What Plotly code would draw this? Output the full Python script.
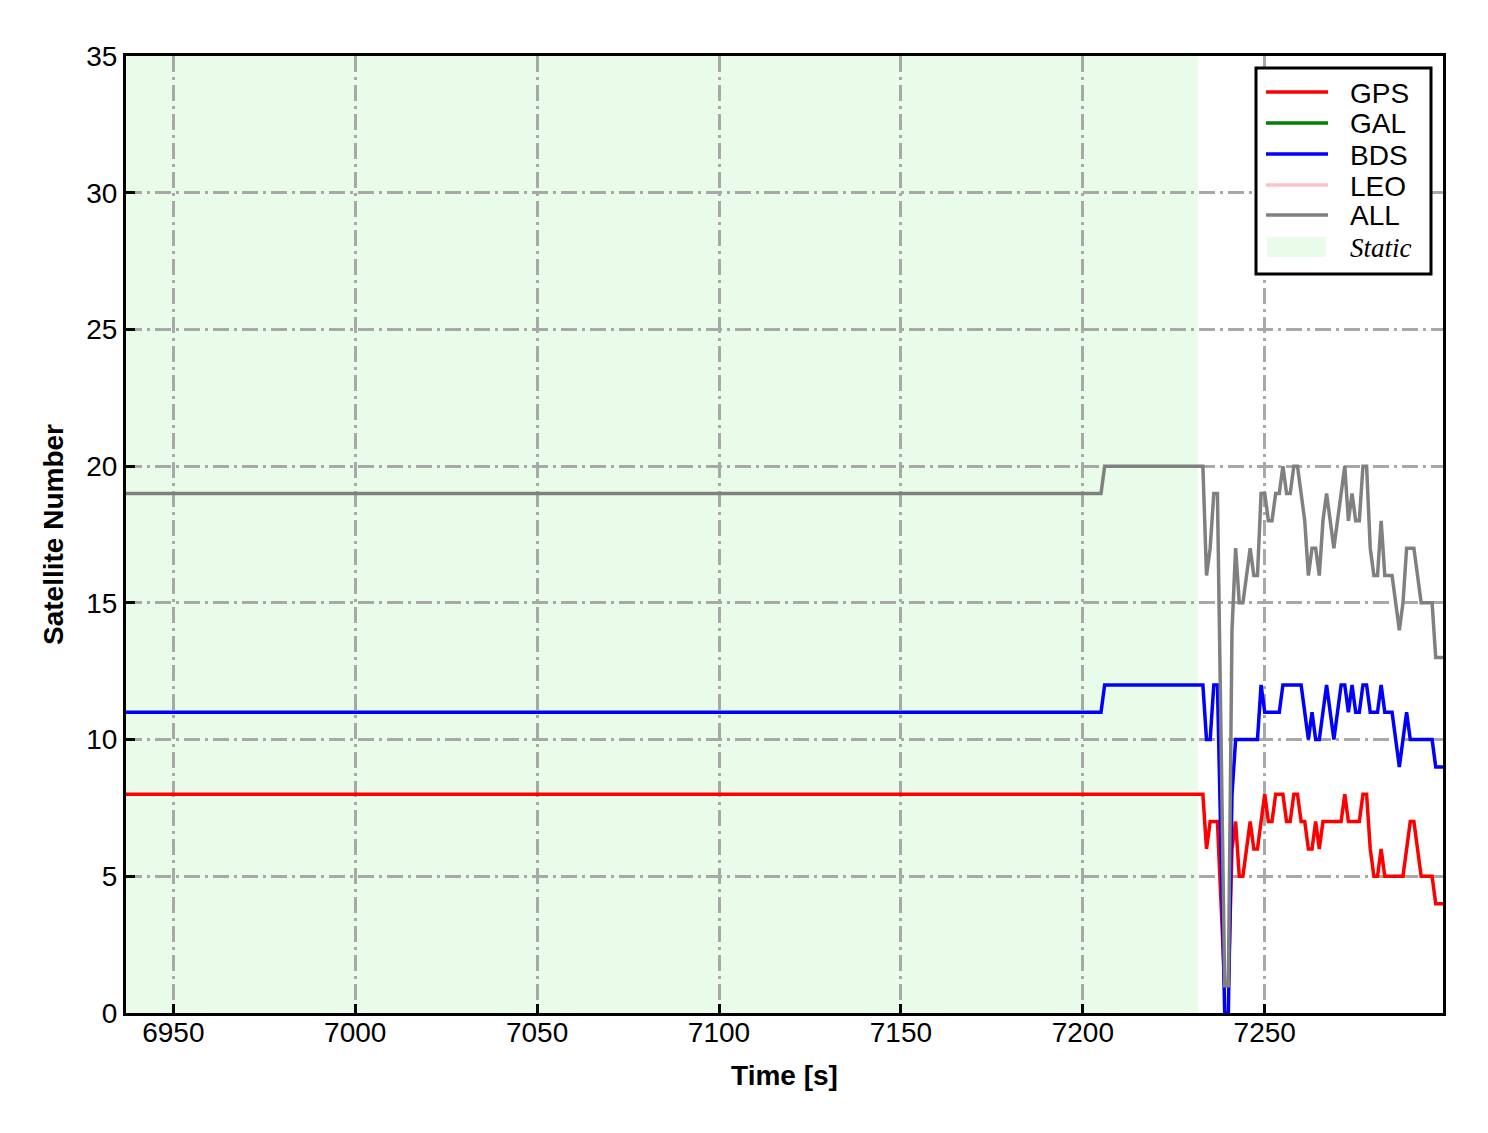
import plotly.graph_objects as go

# time axis [s]: flat part is given by its end points, then 1 s samples
time_s = [6937, 7205, 7206] + list(range(7233, 7300))

gps = [8, 8, 8,
       8, 6, 7, 7, 7, 4, 1, 1, 6, 7,
       5, 5, 6, 7, 6, 6, 7, 8, 7, 7,
       8, 8, 8, 7, 7, 8, 8, 7, 7, 6,
       6, 7, 6, 7, 7, 7, 7, 7, 7, 8,
       7, 7, 7, 7, 8, 8, 6, 5, 5, 6,
       5, 5, 5, 5, 5, 5, 6, 7, 7, 6,
       5, 5, 5, 5, 4, 4, 4]

bds = [11, 11, 12,
       12, 10, 10, 12, 12, 6, 0, 0, 8, 10,
       10, 10, 10, 10, 10, 10, 12, 11, 11, 11,
       11, 11, 12, 12, 12, 12, 12, 12, 11, 10,
       11, 10, 10, 11, 12, 11, 10, 11, 12, 12,
       11, 12, 11, 11, 12, 12, 11, 11, 11, 12,
       11, 11, 11, 10, 9, 10, 11, 10, 10, 10,
       10, 10, 10, 10, 9, 9, 9]

all_sys = [19, 19, 20,
           20, 16, 17, 19, 19, 10, 1, 1, 14, 17,
           15, 15, 16, 17, 16, 16, 19, 19, 18, 18,
           19, 19, 20, 19, 19, 20, 20, 19, 18, 16,
           17, 17, 16, 18, 19, 18, 17, 18, 19, 20,
           18, 19, 18, 18, 20, 20, 17, 16, 16, 18,
           16, 16, 16, 15, 14, 15, 17, 17, 17, 16,
           15, 15, 15, 15, 13, 13, 13]

# no GAL / LEO satellites in this window
gal = []
leo = []

static_period = [6937, 7231.6]

FONT = "Liberation Sans, Arial, sans-serif"
STATIC_FILL = "rgba(144,238,144,0.2)"

# plot area on the page (px), used to place the boxed legend like matplotlib does
AX_L, AX_R, AX_T, AX_B = 126, 1443, 56, 1013


def px_x(px):
    return (px - AX_L) / (AX_R - AX_L)


def px_y(py):
    return (AX_B - py) / (AX_B - AX_T)


fig = go.Figure()
series = [("GPS", gps, "red"), ("GAL", gal, "green"), ("BDS", bds, "blue"),
          ("LEO", leo, "pink"), ("ALL", all_sys, "gray")]
for name, vals, col in series:
    if vals:
        xs, ys = time_s[:len(vals)], vals
    else:
        xs, ys = [None], [None]
    fig.add_trace(go.Scatter(x=xs, y=ys, mode="lines", name=name, showlegend=False,
                             line=dict(color=col, width=3.5)))

# shaded static period, drawn under the grid
fig.add_shape(type="rect", xref="x", yref="y domain",
              x0=static_period[0], x1=static_period[1], y0=0, y1=1,
              fillcolor=STATIC_FILL, line_width=0, layer="below")

# legend box (upper right)
fig.add_shape(type="rect", xref="paper", yref="paper", layer="above",
              x0=px_x(1256), x1=px_x(1431), y0=px_y(274), y1=px_y(68),
              fillcolor="white", line=dict(color="black", width=3))
row_y = [92, 123, 154, 185, 215]
for (name, _, col), ry in zip(series, row_y):
    fig.add_shape(type="line", xref="paper", yref="paper", layer="above",
                  x0=px_x(1266), x1=px_x(1328), y0=px_y(ry), y1=px_y(ry),
                  line=dict(color=col, width=3.5))
    fig.add_annotation(xref="paper", yref="paper", x=px_x(1348), y=px_y(ry + 1),
                       text=name, showarrow=False, xanchor="left", yanchor="middle",
                       font=dict(size=28, family=FONT, color="black"))
fig.add_shape(type="rect", xref="paper", yref="paper", layer="above",
              x0=px_x(1267), x1=px_x(1326), y0=px_y(257), y1=px_y(237),
              fillcolor=STATIC_FILL, line_width=0)
fig.add_annotation(xref="paper", yref="paper", x=px_x(1348), y=px_y(248),
                   text="<i>Static</i>", showarrow=False, xanchor="left", yanchor="middle",
                   font=dict(size=27, family="Liberation Serif, Times New Roman, serif",
                             color="black"))

axis_style = dict(showline=True, linewidth=3, linecolor="black", mirror=True,
                  ticks="inside", ticklen=9, tickwidth=3, tickcolor="black",
                  showgrid=True, gridcolor="#a8a8a8", gridwidth=2.5,
                  griddash="16px,5px,3px,5px",
                  zeroline=False, tickfont=dict(size=28, color="black", family=FONT))

fig.update_xaxes(range=[6937, 7299], tick0=6950, dtick=50, ticklabelstandoff=-8,
                 title=dict(text="<b>Time [s]</b>", font=dict(size=28, color="black", family=FONT),
                            standoff=19),
                 **axis_style)
fig.update_yaxes(range=[0, 35], tick0=0, dtick=5,
                 title=dict(text="<b>Satellite Number</b>", font=dict(size=28, color="black", family=FONT),
                            standoff=15),
                 **axis_style)

# page has an 8 px body margin, so the figure is 8 px smaller
fig.update_layout(width=1480, height=1125,
                  margin=dict(l=118, r=45, t=48, b=120),
                  plot_bgcolor="white", paper_bgcolor="white",
                  font=dict(family=FONT, size=28, color="black"),
                  showlegend=False)

fig.write_html("out.html")
